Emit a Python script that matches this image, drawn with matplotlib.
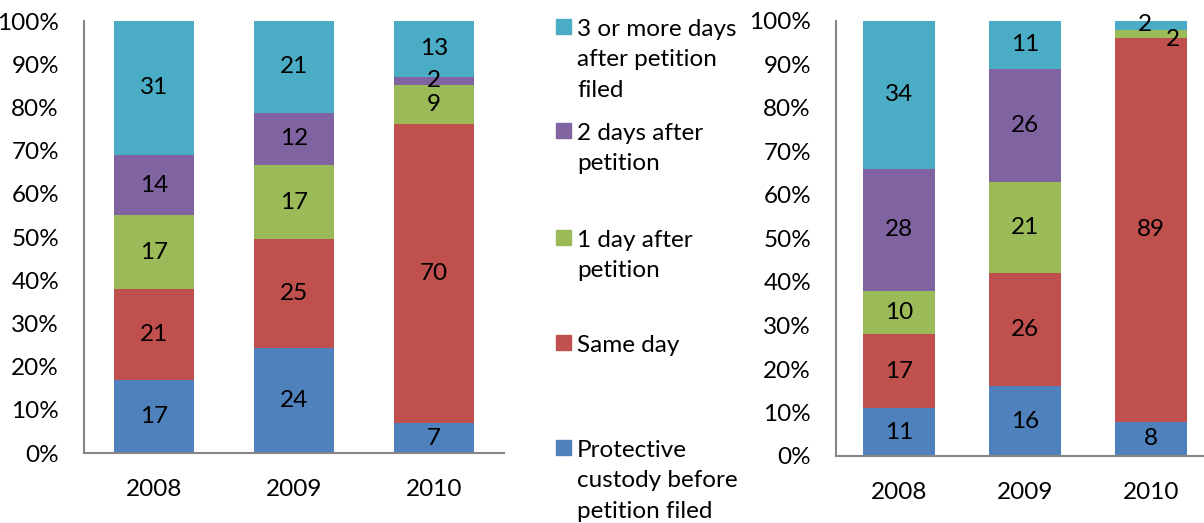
import numpy as np
import matplotlib.pyplot as plt
from matplotlib.patches import Rectangle

plt.rcParams['font.family'] = ['Lato', 'DejaVu Sans']

years = ['2008', '2009', '2010']
series = ['Protective\ncustody before\npetition filed', 'Same day',
          '1 day after\npetition', '2 days after\npetition',
          '3 or more days\nafter petition\nfiled']
colors = ['#4F81BD', '#C0504D', '#9BBB59', '#8064A2', '#4BACC6']

# rows = series (bottom to top), cols = years
left_vals = np.array([[17, 24, 7],
                      [21, 25, 70],
                      [17, 17, 9],
                      [14, 12, 2],
                      [31, 21, 13]], dtype=float)
right_vals = np.array([[11, 16, 8],
                       [17, 26, 89],
                       [10, 21, 2],
                       [28, 26, 0],
                       [34, 11, 2]], dtype=float)

W, H = 1204, 523
fig = plt.figure(figsize=(W / 100, H / 100), dpi=100)
FS = 17.5
grey = '#868686'


def draw(ax, vals, label_offsets):
    pct = vals / vals.sum(axis=0) * 100
    x = np.arange(len(years))
    bottom = np.zeros(len(years))
    for i in range(len(series)):
        ax.bar(x, pct[i], 0.57, bottom=bottom, color=colors[i], edgecolor='none')
        for j in range(len(years)):
            if vals[i, j] > 0:
                dx, dy = label_offsets.get((i, j), (0, 0))
                ax.text(x[j] + dx, bottom[j] + pct[i, j] / 2 + dy, f'{vals[i, j]:.0f}',
                        ha='center', va='center', fontsize=FS, color='black')
        bottom += pct[i]
    ax.set_ylim(0, 100)
    ax.set_xticks(x)
    ax.set_xticklabels(years, fontsize=FS)
    ax.set_yticks(np.arange(0, 101, 10))
    ax.set_yticklabels([f'{t}%' for t in range(0, 101, 10)], fontsize=FS)
    for s in ['top', 'right']:
        ax.spines[s].set_visible(False)
    for s in ['left', 'bottom']:
        ax.spines[s].set_color(grey)
        ax.spines[s].set_linewidth(1.5)
    ax.tick_params(axis='y', length=0, pad=18)
    ax.tick_params(axis='x', length=0, pad=19)


ax1 = fig.add_axes([84 / W, (H - 453) / H, 420 / W, 432 / H])
draw(ax1, left_vals, {})
ax1.set_xlim(-0.5, 2.5)

ax2 = fig.add_axes([836 / W, (H - 456) / H, 368 / W, 435 / H])
draw(ax2, right_vals, {(4, 2): (-0.05, 0.3), (2, 2): (0.17, -1.2)})
ax2.set_xlim(-0.5, 2.42)

# legend
legend_y = [27, 131, 238, 343, 448]
for k, i in enumerate(reversed(range(len(series)))):
    y = legend_y[k]
    fig.patches.append(Rectangle((556 / W, (H - y - 7) / H), 15 / W, 15 / H,
                                 transform=fig.transFigure, color=colors[i]))
    fig.text(577 / W, (H - y + 8) / H, series[i], fontsize=FS, va='top',
             ha='left', linespacing=1.55)

fig.savefig('out.png', dpi=100)
